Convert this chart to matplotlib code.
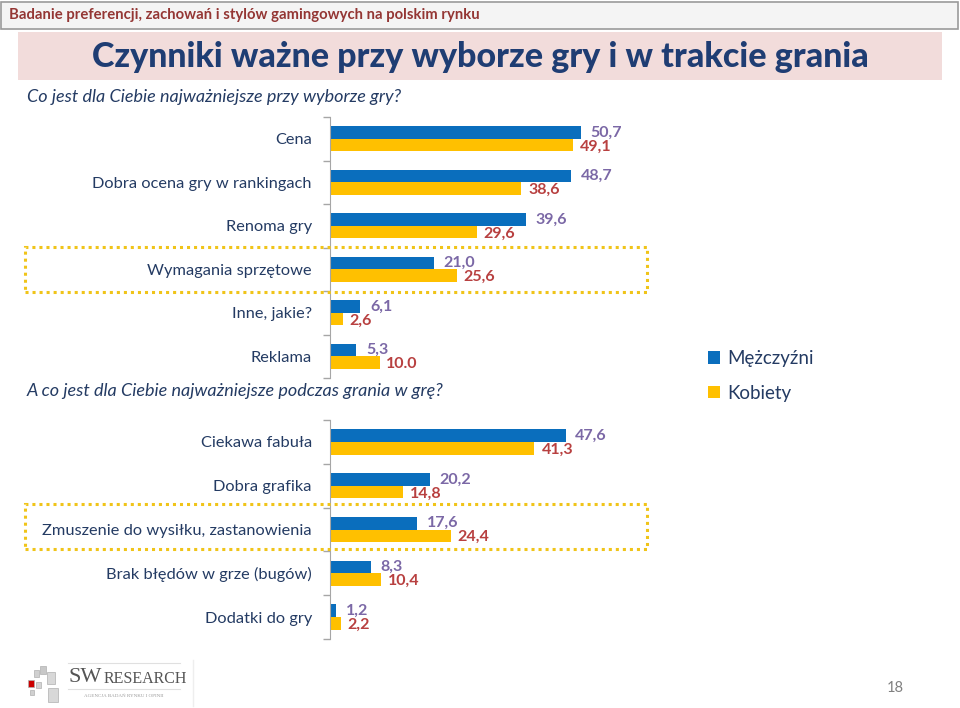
import matplotlib
matplotlib.use('Agg')
import matplotlib.pyplot as plt
from matplotlib.patches import Rectangle
import numpy as np

plt.rcParams['font.family'] = ['Lato', 'DejaVu Sans']

# data
cats_top = ["Cena", "Dobra ocena gry w rankingach", "Renoma gry",
            "Wymagania sprzętowe", "Inne, jakie?", "Reklama"]
men_top = [50.7, 48.7, 39.6, 21.0, 6.1, 5.3]
women_top = [49.1, 38.6, 29.6, 25.6, 2.6, 10.0]
men_top_lbl = ["50,7", "48,7", "39,6", "21,0", "6,1", "5,3"]
women_top_lbl = ["49,1", "38,6", "29,6", "25,6", "2,6", "10.0"]

cats_bot = ["Ciekawa fabuła", "Dobra grafika", "Zmuszenie do wysiłku, zastanowienia",
            "Brak błędów w grze (bugów)", "Dodatki do gry"]
men_bot = [47.6, 20.2, 17.6, 8.3, 1.2]
women_bot = [41.3, 14.8, 24.4, 10.4, 2.2]
men_bot_lbl = ["47,6", "20,2", "17,6", "8,3", "1,2"]
women_bot_lbl = ["41,3", "14,8", "24,4", "10,4", "2,2"]

BLUE = '#0a6ebd'
YELLOW = '#ffc000'
PURPLE = '#7b68a6'
RED = '#b84040'
NAVY = '#243b63'

W, H = 960, 708
fig = plt.figure(figsize=(9.6, 7.08), dpi=100)


def fx(px):
    return px / W


def fy(py):
    return 1 - py / H


def pax(left, top, right, bottom):
    return fig.add_axes([fx(left), fy(bottom), fx(right - left), (bottom - top) / H])


# header band
fig.patches.append(Rectangle((fx(1), fy(29)), fx(957), 27 / H, transform=fig.transFigure,
                             facecolor='#f4f4f4', edgecolor='#9a9a9a', lw=1.2))
fig.text(fx(9), fy(15), "Badanie preferencji, zachowań i stylów gamingowych na polskim rynku",
         color='#943634', fontsize=10.7, fontweight='bold', va='center', ha='left')
fig.patches.append(Rectangle((fx(18), fy(80)), fx(924), 48 / H, transform=fig.transFigure,
                             facecolor='#f2dcdb', edgecolor='none'))
fig.text(fx(480), fy(57), "Czynniki ważne przy wyborze gry i w trakcie grania",
         color='#1f3d73', fontsize=24.5, fontweight='black', va='center', ha='center')
fig.text(fx(27), fy(97), "Co jest dla Ciebie najważniejsze przy wyborze gry?",
         color=NAVY, fontsize=13, style='italic', va='center', ha='left')
fig.text(fx(27), fy(391), "A co jest dla Ciebie najważniejsze podczas grania w grę?",
         color=NAVY, fontsize=13, style='italic', va='center', ha='left')

# dotted highlight boxes
for top, bot in [(247, 292), (504, 549)]:
    fig.patches.append(Rectangle((fx(25), fy(bot)), fx(622), (bot - top) / H,
                                 transform=fig.transFigure, facecolor='none',
                                 edgecolor='#f0c419', lw=2.2, linestyle=(0, (1, 1.3))))


def draw(ax, cats, men, women, men_lbl, women_lbl):
    y = np.arange(len(cats))
    h = 0.29
    bm = ax.barh(y - h / 2, men, height=h, color=BLUE, label='Mężczyźni')
    bw = ax.barh(y + h / 2, women, height=h, color=YELLOW, label='Kobiety')
    ax.set_xlim(0, 60)
    ax.set_ylim(len(cats) - 0.5, -0.5)
    ax.set_yticks(y)
    ax.set_yticklabels(cats, fontsize=11.8, color=NAVY)
    ax.set_yticks(np.arange(len(cats) + 1) - 0.5, minor=True)
    ax.tick_params(axis='y', which='major', length=0, pad=13)
    ax.tick_params(axis='y', which='minor', length=5, color='#a6a6a6', width=1)
    ax.set_xticks([])
    for s in ['top', 'right', 'bottom']:
        ax.spines[s].set_visible(False)
    ax.spines['left'].set_color('#a6a6a6')
    ax.patch.set_alpha(0)
    for i in range(len(cats)):
        ax.annotate(men_lbl[i], (men[i], y[i] - h / 2), xytext=(7, 0), textcoords='offset points',
                    color=PURPLE, fontsize=11.5, fontweight='bold', va='center', ha='left')
        ax.annotate(women_lbl[i], (women[i], y[i] + h / 2), xytext=(5, -1), textcoords='offset points',
                    color=RED, fontsize=11.5, fontweight='bold', va='center', ha='left')
    return bm, bw


ax1 = pax(330, 117, 627, 378)
bm, bw = draw(ax1, cats_top, men_top, women_top, men_top_lbl, women_top_lbl)
ax2 = pax(330, 420, 627, 639)
draw(ax2, cats_bot, men_bot, women_bot, men_bot_lbl, women_bot_lbl)

fig.legend([bm, bw], ['Mężczyźni', 'Kobiety'], loc='upper left',
           bbox_to_anchor=(fx(691), fy(333)), frameon=False, fontsize=13.5,
           handlelength=0.65, handleheight=0.65, handletextpad=0.4,
           labelspacing=0.95, labelcolor=NAVY)

# footer logo
lx = fig.add_axes([fx(20), fy(706), fx(175), 46 / H])
lx.set_xlim(0, 175)
lx.set_ylim(46, 0)
lx.axis('off')
for (x0, y0, w, hh, c) in [(14, 10, 5, 7, '#d0d0d0'), (20, 6, 6, 8, '#c8c8c8'),
                           (27, 12, 8, 12, '#d8d8d8'), (8, 20, 6, 7, '#cc0000'),
                           (16, 22, 5, 6, '#d4d4d4'), (10, 30, 4, 5, '#d0d0d0'),
                           (28, 28, 10, 14, '#d8d8d8')]:
    lx.add_patch(Rectangle((x0, y0), w, hh, facecolor=c, edgecolor='#b0b0b0', lw=0.5))
lx.text(48, 18, "SW", fontsize=16, family='Liberation Serif', color='#555555', va='center')
lx.text(84, 19, "RESEARCH", fontsize=11.5, family='Liberation Serif', color='#555555', va='center')
lx.plot([48, 160], [3, 3], color='#e0e0e0', lw=0.8)
lx.plot([48, 160], [29, 29], color='#e0e0e0', lw=0.8)
lx.text(104, 36, "AGENCJA BADAŃ RYNKU I OPINII", fontsize=3.6, family='Liberation Serif',
        color='#999999', va='center', ha='center')
fig.lines.append(plt.Line2D([fx(193), fx(193)], [fy(706), fy(660)], transform=fig.transFigure,
                            color='#eeeeee', lw=1))
fig.text(fx(895), fy(688), "18", fontsize=10.5, color='#808080', va='center', ha='center')

fig.savefig('out.png', dpi=100)
